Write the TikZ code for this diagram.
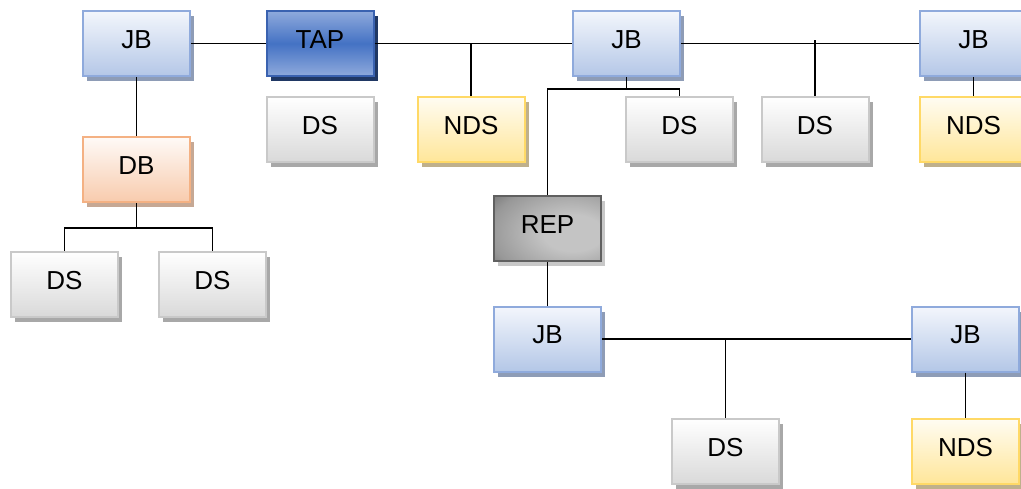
\documentclass[tikz,border=0pt]{standalone}
\usepackage{fontspec}
\setmainfont{Liberation Sans}
\usetikzlibrary{shadows}

\definecolor{jbtop}{HTML}{F3F6FC}
\definecolor{jbbot}{HTML}{B4C7E7}
\definecolor{jbline}{HTML}{8FAADC}
\definecolor{jbshade}{HTML}{8E9CB6}
\definecolor{taplight}{HTML}{8FAADC}
\definecolor{tapmid}{HTML}{4472C4}
\definecolor{tapline}{HTML}{3A62B0}
\definecolor{tapshade}{HTML}{203864}
\definecolor{dsbot}{HTML}{D9D9D9}
\definecolor{dsline}{HTML}{C9C9C9}
\definecolor{dsshade}{HTML}{A8A8A8}
\definecolor{ndstop}{HTML}{FFFCF2}
\definecolor{ndsbot}{HTML}{FFE699}
\definecolor{ndsline}{HTML}{FFD966}
\definecolor{ndsshade}{HTML}{BFB08C}
\definecolor{dbtop}{HTML}{FEFAF7}
\definecolor{dbbot}{HTML}{F8CBAD}
\definecolor{dbline}{HTML}{F4B183}
\definecolor{dbshade}{HTML}{C6A894}
\definecolor{repin}{HTML}{C4C4C4}
\definecolor{repmid}{HTML}{989898}
\definecolor{repout}{HTML}{4A4A4A}
\definecolor{repline}{HTML}{606060}
\definecolor{repshade}{HTML}{C8C8C8}

% grey gradient, brightest right of centre, darkest in the left corners
\pgfdeclareradialshading{repshading}{\pgfpoint{14bp}{-4bp}}{%
  color(0bp)=(repin); color(14bp)=(repin); color(36bp)=(repmid);
  color(56bp)=(repout); color(100bp)=(repout)}

\tikzset{
  box/.style={rectangle, minimum width=107pt, minimum height=65pt,
    inner sep=0pt, line width=2pt, text height=18.6pt, text depth=9pt,
    font=\fontsize{26}{30}\selectfont},
  jbbox/.style={box, draw=jbline, top color=jbtop, bottom color=jbbot,
    general shadow={fill=jbshade, shadow xshift=4pt, shadow yshift=-5pt}},
  tapbox/.style={box, draw=tapline, top color=taplight,
    bottom color=taplight, middle color=tapmid,
    general shadow={fill=tapshade, shadow xshift=4pt, shadow yshift=-5pt}},
  dsbox/.style={box, draw=dsline, top color=white, bottom color=dsbot,
    general shadow={fill=dsshade, shadow xshift=4pt, shadow yshift=-5pt}},
  ndsbox/.style={box, draw=ndsline, top color=ndstop, bottom color=ndsbot,
    general shadow={fill=ndsshade, shadow xshift=4pt, shadow yshift=-5pt}},
  dbbox/.style={box, draw=dbline, top color=dbtop, bottom color=dbbot,
    general shadow={fill=dbshade, shadow xshift=4pt, shadow yshift=-5pt}},
  repbox/.style={box, draw=repline, shading=repshading,
    general shadow={fill=repshade, shadow xshift=4pt, shadow yshift=-5pt}},
  wire/.style={line width=1.9pt, black}
}

\begin{document}
\begin{tikzpicture}[x=1pt, y=-1pt]
  \useasboundingbox (0,0) rectangle (1021,488);
  \clip (0,0) rectangle (1021,488);

  % top row
  \node[jbbox]  (jb1)  at (136.5,43.5) {JB};
  \node[tapbox] (tap)  at (320,43.5)   {TAP};
  \node[jbbox]  (jb2)  at (626.5,43.5) {JB};
  \node[jbbox]  (jb3)  at (973.5,43.5) {JB};

  % second row
  \node[dsbox]  (ds1)  at (320,129.5)   {DS};
  \node[ndsbox] (nds1) at (471,129.5)   {NDS};
  \node[dsbox]  (ds2)  at (679.5,129.5) {DS};
  \node[dsbox]  (ds3)  at (815,129.5)   {DS};
  \node[ndsbox] (nds2) at (973.5,129.5) {NDS};

  % left branch
  \node[dbbox]  (db)   at (136.5,169.5) {DB};
  \node[dsbox]  (ds4)  at (64.5,284.5)  {DS};
  \node[dsbox]  (ds5)  at (212.5,284.5) {DS};

  % replica branch
  \node[repbox] (rep)  at (547.5,228.5) {REP};
  \node[jbbox]  (jb4)  at (547.5,339)   {JB};
  \node[jbbox]  (jb5)  at (965.5,339)   {JB};
  \node[dsbox]  (ds6)  at (725.5,451.5) {DS};
  \node[ndsbox] (nds3) at (965.5,451.5) {NDS};

  % connectors
  \draw[wire] (jb1.east) -- (tap.west);
  \draw[wire] (tap.east) -- (jb2.west);
  \draw[wire] (nds1.north) -- (nds1.north |- tap.east);
  \draw[wire] (jb2.east) -- (jb3.west);
  \draw[wire, shorten >=-4pt] (ds3.north) -- (ds3.north |- jb2.east);
  \draw[wire] (jb3.south) -- (nds2.north);
  \draw[wire] (jb2.south) -- ++(0,12) coordinate (split) -| (ds2.north);
  \draw[wire] (split) -| (rep.north);
  \draw[wire] (jb1.south) -- (db.north);
  \draw[wire] (db.south) -- ++(0,25) coordinate (fork) -| (ds4.north);
  \draw[wire] (fork) -| (ds5.north);
  \draw[wire] (rep.south) -- (jb4.north);
  \draw[wire] (jb4.east) -- (jb5.west);
  \draw[wire] (ds6.north) -- (ds6.north |- jb4.east);
  \draw[wire] (jb5.south) -- (nds3.north);
\end{tikzpicture}
\end{document}
